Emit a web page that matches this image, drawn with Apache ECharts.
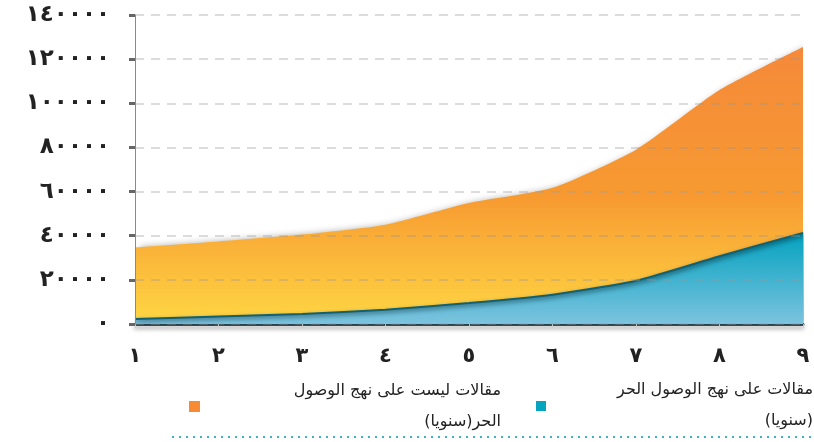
<!DOCTYPE html>
<html>
<head>
<meta charset="utf-8">
<script src="https://cdn.jsdelivr.net/npm/echarts@6/dist/echarts.min.js"></script>
<style>
  html, body { margin: 0; padding: 0; background: #fff; }
  #chart { width: 814px; height: 442px; }
</style>
</head>
<body>
<div id="chart"></div>
<script>
  // categories (years 1..9 in Arabic-Indic digits)
  var categories = ['١', '٢', '٣', '٤', '٥', '٦', '٧', '٨', '٩'];
  // y tick labels, one per 20000 step
  var yTickLabels = ['٠', '٢٠٠٠٠', '٤٠٠٠٠', '٦٠٠٠٠', '٨٠٠٠٠', '١٠٠٠٠٠', '١٢٠٠٠٠', '١٤٠٠٠٠'];
  // open access articles (yearly) - bottom layer
  var openAccess = [2300, 3400, 4500, 6500, 9500, 13300, 19600, 30700, 41300];
  // non open access articles (yearly) - stacked on top
  var notOpenAccess = [32400, 34000, 36000, 38500, 45300, 48400, 59400, 75300, 84200];

  var nameOpen = 'مقالات على نهج الوصول الحر\n(سنويا)';
  var nameNotOpen = 'مقالات ليست على نهج الوصول\nالحر(سنويا)';

  var chart = echarts.init(document.getElementById('chart'));
  var ink = '#222', rule = '#8a8a8a';

  chart.setOption({
    animation: false,
    grid: { left: 135, right: 11, top: 15, bottom: 118 },
    xAxis: {
      type: 'category', data: categories, boundaryGap: false,
      axisLine: { lineStyle: { color: '#2f4c57', width: 3, shadowColor: 'rgba(0,0,0,0.35)', shadowBlur: 4, shadowOffsetY: 3 } },
      axisTick: { show: true, alignWithLabel: true, length: 4, lineStyle: { color: '#ccc' } },
      axisLabel: { color: ink, fontSize: 21, fontWeight: 'bold', margin: 22, fontFamily: 'DejaVu Sans' },
      splitLine: { show: false }
    },
    yAxis: {
      type: 'value', min: 0, max: 140000, interval: 20000, z: 5,
      axisLine: { show: true, lineStyle: { color: rule, width: 1 } },
      axisTick: { show: true, length: 6, lineStyle: { color: '#666', width: 3 } },
      axisLabel: {
        color: ink, fontSize: 23, fontWeight: 'bold', margin: 25, fontFamily: 'DejaVu Sans',
        formatter: function(v) { return yTickLabels[Math.round(v / 20000)]; }
      },
      splitLine: { show: true, lineStyle: { color: 'rgba(150,150,150,0.45)', width: 1.5, type: [9, 7] } }
    },
    series: [{
      name: nameOpen, type: 'line', stack: 'all', data: openAccess,
      symbol: 'none', smooth: 0.2,
      lineStyle: { color: '#15606f', width: 2, shadowColor: 'rgba(0,40,60,0.5)', shadowBlur: 4, shadowOffsetY: 2 },
      areaStyle: {
        opacity: 1,
        color: { type: 'linear', x: 0, y: 0, x2: 0, y2: 1,
          colorStops: [{ offset: 0, color: '#03a2c0' }, { offset: 1, color: '#7cc3de' }] },
        shadowColor: 'rgba(0,0,0,0.3)', shadowBlur: 5, shadowOffsetX: 4
      }
    }, {
      name: nameNotOpen, type: 'line', stack: 'all', data: notOpenAccess,
      symbol: 'none', smooth: 0.2,
      lineStyle: { width: 0 },
      areaStyle: {
        opacity: 1,
        color: { type: 'linear', x: 0, y: 0, x2: 0, y2: 1,
          colorStops: [{ offset: 0, color: '#f5893a' }, { offset: 0.55, color: '#f79a31' }, { offset: 1, color: '#fed443' }] },
        shadowColor: 'rgba(0,0,0,0.35)', shadowBlur: 7, shadowOffsetX: 5
      }
    }],
    graphic: [
      { type: 'rect', shape: { x: 536, y: 401, width: 10, height: 10 }, style: { fill: '#05a5c0' } },
      { type: 'text', x: 813, y: 374, style: { text: nameOpen, align: 'right', fill: '#222', font: '16px "DejaVu Sans"', lineHeight: 31 } },
      { type: 'rect', shape: { x: 189, y: 401, width: 11, height: 11 }, style: { fill: '#f68a35' } },
      { type: 'text', x: 501, y: 375, style: { text: nameNotOpen, align: 'right', fill: '#222', font: '16px "DejaVu Sans"', lineHeight: 31 } },
      { type: 'line', shape: { x1: 172, y1: 437, x2: 814, y2: 437 }, style: { stroke: '#3fb3c2', lineWidth: 2, lineDash: [2, 5] } }
    ]
  });
</script>
</body>
</html>
